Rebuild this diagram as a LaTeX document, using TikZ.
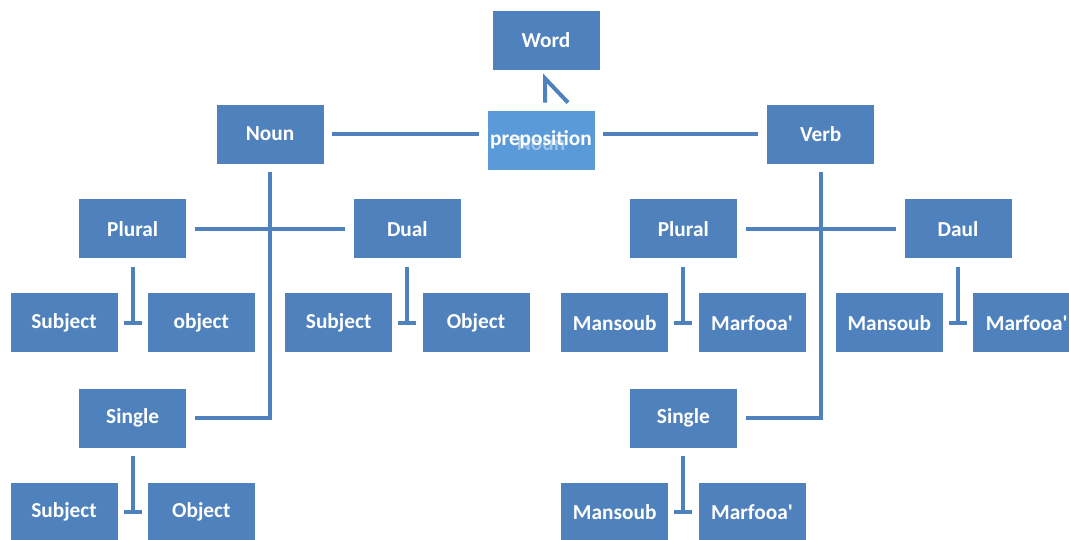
\documentclass[tikz,border=0pt]{standalone}
\usepackage{fontspec}
\setmainfont{Carlito}[Ligatures=TeXOff]
\usetikzlibrary{positioning}
\definecolor{boxblue}{HTML}{4F81BD}
\definecolor{lightblue}{HTML}{5B9AD8}
\tikzstyle{box} = [rectangle, minimum width=81pt, minimum height=45pt, inner sep=0pt, text centered, draw=white, line width=0.6pt, fill=boxblue, text=white, font=\fontsize{16}{19}\selectfont\bfseries]
\tikzstyle{link} = [draw=boxblue, line width=3pt, shorten <=6pt, shorten >=6pt]
\tikzstyle{bar} = [draw=boxblue, line width=3pt, shorten <=4pt, shorten >=4pt]

\begin{document}
\begin{tikzpicture}[x=0.75pt, y=-0.75pt, on grid, node distance=71pt and 103pt]
    \useasboundingbox (0,0) rectangle (1069,539);

    \node (word) [box] at (546,40) {Word};
    \node (prep) [box, fill=lightblue, below=75pt of word, xshift=-3.75pt] {preposition};
    \node (ghost) [text=white, text opacity=0.4, font=\fontsize{16}{19}\selectfont\bfseries] at ([yshift=-3pt]prep.center) {Noun};

    \node (noun) [box, below left=70.5pt and 207pt of word] {Noun};
    \node (verb) [box, below right=70.5pt and 206pt of word] {Verb};

    % noun side
    \node (plural) [box, below left=of noun] {Plural};
    \node (dual) [box, below right=of noun] {Dual};
    \node (single) [box, below=142pt of plural] {Single};
    \begin{scope}[node distance=70.5pt and 51.5pt]
        \node (subjpl) [box, below left=of plural] {Subject};
        \node (objpl) [box, below right=of plural] {object};
        \node (subjdu) [box, below left=of dual] {Subject};
        \node (objdu) [box, below right=of dual] {Object};
        \node (subjsg) [box, below left=of single] {Subject};
        \node (objsg) [box, below right=of single] {Object};
    \end{scope}

    % verb side
    \node (vplural) [box, below left=of verb] {Plural};
    \node (vdual) [box, below right=of verb] {Daul};
    \node (vsingle) [box, below=142pt of vplural] {Single};
    \begin{scope}[node distance=70.5pt and 51.5pt]
        \node (manpl) [box, below left=of vplural] {Mansoub};
        \node (marpl) [box, below right=of vplural] {Marfooa'};
        \node (mandu) [box, below left=of vdual] {Mansoub};
        \node (mardu) [box, below right=of vdual] {Marfooa'};
        \node (mansg) [box, below left=of vsingle] {Mansoub};
        \node (marsg) [box, below right=of vsingle] {Marfooa'};
    \end{scope}

    \draw [link, shorten <=0pt, shorten >=0pt, line join=miter] ([shift={(4,-7)}]prep.north) -- ([shift={(-1,8)}]word.south) -- ([shift={(27,-7)}]prep.north);

    \draw [link] (noun.east) -- (noun.east -| prep.west);
    \draw [link] (verb.west -| prep.east) -- (verb.west);

    \draw [link] (noun) |- (single);
    \draw [link] (plural) -- (dual);
    \draw [link] (verb) |- (vsingle);
    \draw [link] (vplural) -- (vdual);

    \foreach \up/\l/\r in {plural/subjpl/objpl, dual/subjdu/objdu, single/subjsg/objsg,
                           vplural/manpl/marpl, vdual/mandu/mardu, vsingle/mansg/marsg} {
        \draw [link, shorten >=0pt] (\up) -- (\up |- \l.east);
        \draw [bar] (\l.east) -- (\r.west);
    }

\end{tikzpicture}
\end{document}
